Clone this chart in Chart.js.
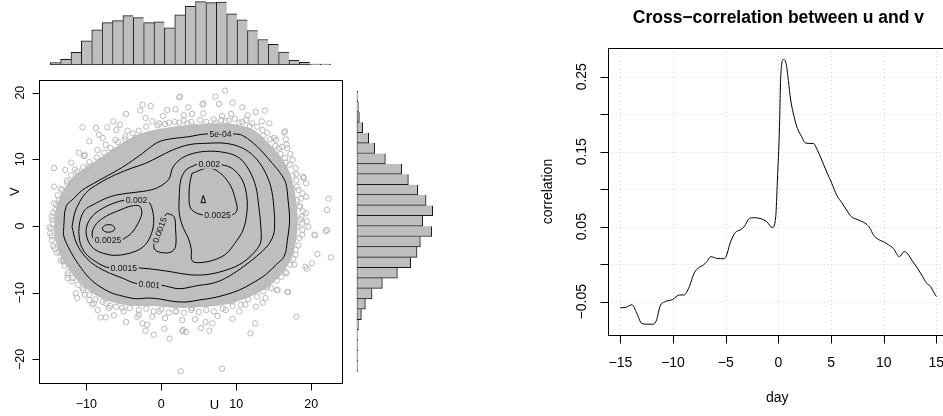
<!DOCTYPE html>
<html>
<head>
<meta charset="utf-8">
<script src="https://cdn.jsdelivr.net/npm/chart.js@4.4.1/dist/chart.umd.min.js"></script>
<style>
  html, body { margin: 0; padding: 0; background: #fff; overflow: hidden; }
  #wrap { position: relative; width: 943px; height: 416px; overflow: hidden; background: #fff; }
  #wrap canvas { position: absolute; left: 0; top: 0; }
</style>
</head>
<body>
<div id="wrap">
  <canvas id="histTop" width="943" height="416"></canvas>
  <canvas id="histRight" width="943" height="416"></canvas>
  <canvas id="scatter" width="943" height="416"></canvas>
  <canvas id="ccf" width="960" height="416"></canvas>
</div>
<script>
// Randhistogramme: Anzahl je Klasse (U von links nach rechts, V von unten nach oben)
const uCounts = [7, 17, 38, 73, 106, 128, 134, 149, 143, 128, 130, 112, 151, 177, 191, 188, 190, 154, 136, 104, 77, 62, 39, 14, 8, 1, 1];
const vCounts = [1, 1, 1, 3, 5, 14, 26, 46, 77, 122, 162, 181, 191, 225, 198, 228, 208, 183, 155, 135, 86, 54, 36, 18, 8, 5, 1];

// Einzelne Punkte am Rand der Wolke [U, V]
const outerPoints = [
  [2.4, 19.3], [8.5, 20.3], [7.2, 19.4], [2.5, 19.4], [-2.5, 18.2], [-1.4, 18.0], [-2.8, 17.3], [-4.7, 16.8],
  [0.8, 17.4], [1.9, 17.5], [3.6, 17.8], [4.1, 16.8], [5.5, 18.2], [5.6, 16.9], [5.6, 18.4], [7.7, 18.3],
  [9.5, 18.5], [10.8, 17.8], [9.3, 16.8], [8.1, 16.5], [12.6, 17.1], [13.8, 17.3], [-10.5, 14.8], [-8.7, 14.7],
  [-7.2, 14.8], [-6.0, 14.4], [-6.4, 15.7], [-4.5, 14.3], [-2.1, 16.2], [-1.2, 15.7], [-0.3, 15.4], [1.0, 15.5],
  [2.4, 15.5], [3.5, 15.4], [4.6, 14.9], [6.4, 15.0], [7.2, 15.5], [8.6, 15.7], [10.4, 15.5], [11.3, 15.9],
  [12.1, 15.4], [13.4, 15.7], [14.4, 15.4], [13.5, 14.4], [14.1, 14.0], [16.4, 14.0], [15.3, 12.9], [16.6, 13.0],
  [16.1, 11.9], [16.8, 11.7], [15.7, 11.7], [16.5, 14.2], [16.7, 12.2], [17.5, 9.9], [17.9, 8.7], [16.6, 9.5],
  [19.0, 7.2], [19.3, 6.4], [18.8, 4.9], [19.3, 4.4], [18.1, 5.9], [18.1, 3.9], [22.3, 4.1], [22.1, 2.4],
  [19.3, 1.9], [18.8, 0.4], [19.6, -0.1], [18.9, 7.4], [18.5, 2.9], [18.7, 1.4], [18.1, -0.1], [19.4, 0.7],
  [22.1, -0.6], [20.5, -1.4], [-8.5, 11.4], [-10.3, 10.5], [-14.3, 8.7], [-12.8, 8.4], [-14.3, 5.9], [-11.5, 8.5],
  [-6.1, 12.9], [-4.8, 13.4], [-3.4, 13.2], [-9.6, 8.9], [-10.8, 7.4], [-11.4, 6.7], [-13.2, 5.4], [-13.6, 3.9],
  [-14.1, 2.4], [-14.5, 0.9], [-13.0, 4.4], [-12.5, 6.4], [-8.3, 13.7], [-9.6, 12.7], [-7.4, 12.2], [-14.6, 1.4],
  [-14.4, 0.4], [-14.8, -1.1], [-14.6, -2.1], [-14.4, -3.0], [-14.0, 3.2], [-13.3, -4.1], [-13.1, -5.1], [-10.2, 10.7],
  [-14.9, -0.2], [-12.5, -7.3], [-12.5, -7.8], [-11.4, -10.1], [-11.2, -10.8], [-9.6, -11.1], [-9.0, -11.6], [-8.1, -13.7],
  [-7.4, -13.7], [-6.3, -13.4], [-4.7, -14.4], [-3.2, -13.6], [-2.1, -15.7], [-1.0, -16.3], [0.4, -15.4], [1.1, -16.9],
  [2.8, -15.8], [3.3, -15.9], [-1.9, -14.8], [-0.3, -12.8], [2.6, -21.8], [8.1, -21.4], [5.3, -15.3], [6.4, -15.7],
  [6.8, -14.6], [5.9, -14.4], [12.5, -14.6], [11.9, -16.1], [18.0, -13.6], [10.4, -12.8], [11.2, -11.8], [12.6, -12.1],
  [13.9, -10.8], [15.5, -9.6], [16.8, -9.9], [17.7, -5.8], [19.2, -6.1], [20.1, -5.6], [20.8, -4.2], [22.6, -4.7],
  [20.4, -1.3], [21.9, -0.8], [18.8, -1.3], [17.5, -2.3], [17.0, -3.8], [17.9, -4.3], [1.9, -12.8], [2.8, -14.1],
  [4.1, -12.3], [8.6, -12.6], [9.5, -11.3], [-1.2, -13.6], [-3.0, -13.3], [-5.2, -12.3], [-7.0, -12.3], [-7.4, -11.6],
  [-9.2, -11.8], [-10.5, -9.3], [-11.9, -8.3], [-11.0, -6.8], [-13.0, -5.3], [-13.6, -3.8], [19.4, -6.4], [16.7, -7.1],
  [16.9, -9.9], [15.4, -9.6], [14.1, -9.1], [2.9, -15.6], [-12.0, 9.5], [-11.0, 11.0], [-7.8, 13.2], [-5.5, 15.2],
  [0.2, 16.5], [3.0, 16.6], [11.5, 16.6], [15.0, 13.2], [17.2, 10.8], [18.0, 7.8], [4.5, -14.0], [0.5, -13.8],
  [7.5, -13.5], [9.5, -13.9], [13.5, -11.5], [-2.5, -14.6], [-8.5, -12.6], [-10.2, -10.3]
];

// Kreise direkt am Rand des dichten Kerns [U, V]
const edgePoints = [
  [-3.0, 14.3], [-2.0, 14.9], [-0.5, 15.1], [0.5, 15.3], [1.8, 15.6], [3.0, 15.8], [4.0, 15.6], [5.2, 15.9],
  [6.0, 15.6], [7.0, 16.0], [8.0, 15.9], [9.0, 15.8], [9.8, 16.1], [10.8, 15.6], [11.8, 15.0], [12.8, 14.9],
  [13.6, 13.6], [14.5, 13.0], [15.2, 12.0], [15.9, 10.8], [16.5, 10.2], [17.1, 9.2], [17.5, 7.6], [18.0, 6.8],
  [18.3, 5.4], [18.6, 4.1], [18.4, 3.0], [18.9, 2.2], [18.6, 1.0], [18.8, -0.6], [18.4, -1.8], [18.3, -2.9],
  [17.9, -3.6], [17.6, -4.9], [17.2, -5.8], [16.6, -6.9], [16.0, -7.6], [15.4, -8.2], [14.6, -9.3], [13.6, -9.8],
  [12.8, -10.6], [11.6, -11.0], [10.6, -11.8], [9.5, -12.0], [8.2, -12.4], [7.0, -12.8], [6.0, -12.6], [5.0, -12.9],
  [4.0, -12.6], [3.0, -13.0], [2.0, -12.8], [1.0, -13.0], [0.0, -12.5], [-1.0, -12.8], [-2.0, -12.4], [-3.0, -12.6],
  [-4.2, -12.3], [-5.0, -12.8], [-6.0, -12.1], [-6.8, -12.0], [-7.8, -11.4], [-8.8, -11.0], [-9.6, -10.3], [-10.4, -9.6],
  [-11.1, -8.8], [-11.8, -7.8], [-12.4, -7.0], [-12.9, -6.0], [-13.4, -5.2], [-13.9, -4.0], [-14.2, -3.4], [-14.6, -1.5],
  [-14.7, -0.4], [-14.4, 2.0], [-14.3, 3.4], [-13.8, 4.6], [-13.4, 5.6], [-12.6, 6.8], [-12.0, 7.6], [-11.2, 8.2],
  [-10.4, 8.8], [-9.6, 9.6], [-8.6, 10.3], [-7.6, 11.0], [-6.8, 11.7], [-5.8, 12.6], [-4.8, 13.0], [-3.8, 13.9]
];

// Umriss des dichten Kerns (dort liegen die Kreise lückenlos übereinander)
const coreOutline = [
  [-14.3, -0.5], [-14.0, 2.8], [-13.2, 5.0], [-11.8, 7.3], [-9.8, 9.0], [-7.8, 10.5], [-5.6, 12.2], [-3.2, 13.7],
  [-1.0, 14.4], [1.5, 14.9], [4.5, 15.2], [7.5, 15.4], [10.5, 15.1], [12.5, 14.3], [14.0, 12.8], [15.5, 11.0],
  [16.8, 8.8], [17.6, 6.3], [18.0, 3.5], [18.2, 0.5], [17.9, -2.5], [17.3, -5.0], [16.2, -7.0], [14.6, -8.8],
  [12.6, -10.2], [10.4, -11.2], [8.0, -11.9], [5.0, -12.2], [2.0, -12.3], [-1.0, -12.0], [-3.6, -12.0], [-6.0, -11.6],
  [-8.4, -10.6], [-10.4, -9.0], [-12.0, -7.0], [-13.3, -4.6], [-14.1, -2.3], [-14.3, -0.5]
];

// Konturlinien der Dichteschätzung
const contour5e4 = [
  [-13.0, -0.1], [-12.7, 2.9], [-11.6, 4.2], [-10.5, 5.4], [-9.0, 6.4], [-7.4, 7.4], [-5.2, 8.8], [-2.5, 10.9],
  [-1.0, 12.2], [0.4, 12.9], [3.7, 13.4], [5.9, 13.8], [9.9, 13.8], [10.8, 13.6], [12.1, 12.6], [13.5, 11.1],
  [14.8, 9.4], [15.9, 7.9], [16.6, 6.4], [16.9, 3.9], [17.1, 0.9], [16.8, -2.2], [16.4, -4.5], [15.3, -5.8],
  [13.9, -7.3], [12.1, -8.6], [10.4, -9.6], [8.6, -10.3], [6.8, -10.8], [5.0, -11.1], [3.3, -11.4], [1.5, -11.3],
  [0.1, -11.0], [-1.6, -10.8], [-3.4, -10.9], [-5.2, -10.5], [-6.7, -10.0], [-8.3, -9.0], [-9.6, -7.8], [-11.0, -5.8],
  [-12.1, -3.8], [-13.0, -1.5], [-13.0, -0.1]
];
const contour001 = [
  [-11.9, -0.1], [-11.4, 2.4], [-10.1, 4.9], [-8.3, 6.4], [-6.1, 7.7], [-3.9, 8.7], [-2.1, 9.4], [-0.3, 10.4],
  [1.5, 11.4], [3.7, 12.2], [5.9, 12.4], [8.6, 12.4], [10.8, 11.7], [12.4, 10.4], [13.7, 8.4], [14.6, 5.9],
  [15.0, 2.9], [15.1, -0.3], [14.8, -1.8], [13.9, -3.3], [11.3, -5.8], [8.6, -7.8], [6.8, -8.6], [5.0, -8.9],
  [2.4, -9.4], [0.1, -8.9], [-3.4, -8.6], [-5.2, -7.8], [-7.4, -6.8], [-9.2, -5.6], [-10.5, -4.1], [-11.4, -2.3],
  [-11.9, -0.1]
];
const contour0015 = [
  [-11.0, -0.8], [-10.8, 0.9], [-10.2, 2.4], [-9.1, 3.2], [-6.8, 4.4], [-4.6, 4.9], [-2.4, 5.2], [-0.6, 5.7],
  [1.0, 7.0], [1.5, 8.7], [2.4, 9.9], [3.7, 10.7], [5.9, 11.2], [8.6, 11.0], [10.4, 10.2], [11.7, 8.4],
  [12.6, 5.9], [13.0, 2.9], [13.3, -0.6], [13.2, -2.6], [12.1, -4.3], [10.4, -5.8], [8.1, -6.8], [5.9, -7.3],
  [3.7, -7.3], [1.5, -6.9], [-0.3, -6.6], [-2.8, -6.3], [-5.0, -6.3], [-7.2, -6.2], [-8.8, -5.3], [-10.1, -4.1],
  [-10.8, -2.6], [-11.0, -0.8]
];
const contour0015Mid = [
  [0.8, 1.9], [1.7, 1.4], [1.9, -0.4], [1.9, -3.1], [1.3, -3.9], [0.1, -4.0], [-0.8, -3.6], [-1.0, -2.9],
  [-0.5, -0.5], [0.2, 1.2], [0.8, 1.9]
];
const contour002Left = [
  [-1.7, 3.65], [-1.3, 2.9], [-1.0, 0.9], [-1.3, -1.1], [-2.2, -2.9], [-3.7, -3.9], [-6.0, -4.4], [-7.7, -4.1],
  [-9.0, -3.4], [-9.8, -2.1], [-10.0, -0.4], [-9.4, 1.2], [-8.2, 2.4], [-6.4, 3.4], [-4.8, 3.9], [-3.3, 3.9],
  [-1.7, 3.65]
];
const contour002Right = [
  [4.6, 9.2], [6.4, 9.3], [8.0, 9.2], [9.5, 8.6], [10.8, 6.9], [11.4, 4.4], [11.4, 1.9], [10.9, -0.6],
  [9.8, -2.6], [8.6, -4.2], [7.0, -5.1], [5.0, -5.5], [4.1, -5.2], [4.0, -3.5], [3.6, -1.8], [2.9, -0.2],
  [2.4, 1.9], [2.4, 4.4], [2.6, 6.9], [3.3, 8.4], [4.6, 9.2]
];
const contour0025Left = [
  [-5.1, -2.0], [-4.0, -1.1], [-3.1, 0.4], [-2.6, 1.9], [-2.9, 3.0], [-4.0, 3.0], [-5.5, 2.4], [-7.3, 1.5],
  [-8.6, 0.4], [-9.2, -0.9], [-9.0, -1.9], [-7.1, -2.2], [-5.1, -2.0]
];
const contour0025Right = [
  [4.1, 7.9], [6.4, 8.7], [8.1, 7.7], [9.3, 5.9], [9.9, 3.9], [10.1, 2.4], [9.5, 1.7], [7.3, 1.5],
  [5.0, 1.8], [3.9, 2.7], [3.7, 4.4], [3.8, 6.4], [4.1, 7.9]
];
const contour003Left = [[-7.9, -0.3], [-7.4, 0.15], [-6.5, 0.1], [-6.2, -0.5], [-6.8, -0.9], [-7.6, -0.8], [-7.9, -0.3]];
const contour003Right = [[5.3, 3.5], [5.6, 4.6], [5.9, 3.5], [5.3, 3.5]];
const contourLines = [contour5e4, contour001, contour0015, contour0015Mid, contour002Left, contour002Right,
  contour0025Left, contour0025Right, contour003Left, contour003Right];

// Beschriftung der Konturen
const labelText = ['5e-04', '0.001', '0.0015', '0.002', '0.0025', '0.002', '0.0025', '0.0015'];
const labelU = [7.9, -1.6, -5.0, -3.3, -7.1, 6.4, 7.5, -0.2];
const labelV = [13.75, -8.8, -6.3, 3.9, -2.1, 9.25, 1.6, -0.6];
const labelAngle = [0, 4, 0, 0, 0, 0, 0, -70];

// Kreuzkorrelation zwischen u und v
const ccfDay = [-15, -14.5, -13.9, -13.45, -12.97, -12.5, -11.86, -11.55, -11.23, -10.76, -10.03, -9.4, -8.96, -8.45,
  -8.0, -7.5, -7.12, -6.8, -6.42, -5.85, -5.15, -4.96, -4.58, -4.1, -3.63, -3.25, -2.75, -2.37, -1.74, -1.1, -0.57,
  -0.25, -0.09, 0.1, 0.22, 0.48, 0.73, 0.95, 1.17, 1.49, 1.81, 2.22, 2.53, 2.94, 3.33, 3.71, 4.12, 4.59, 5.07, 5.54,
  6.02, 6.49, 6.96, 7.44, 7.91, 8.32, 8.7, 9.02, 9.5, 9.97, 10.45, 10.92, 11.49, 11.94, 12.19, 12.66, 13.14, 13.61,
  14.09, 14.47, 14.72, 15.0];
const ccfValue = [-0.058, -0.0576, -0.054, -0.065, -0.079, -0.080, -0.080, -0.074, -0.056, -0.050, -0.047, -0.041,
  -0.041, -0.030, -0.012, -0.004, -0.001, 0.0033, 0.010, 0.0078, 0.0073, 0.010, 0.028, 0.042, 0.0456, 0.050, 0.061,
  0.062, 0.061, 0.0567, 0.0487, 0.063, 0.112, 0.179, 0.248, 0.273, 0.268, 0.245, 0.219, 0.197, 0.181, 0.170, 0.162,
  0.161, 0.161, 0.152, 0.139, 0.123, 0.108, 0.092, 0.082, 0.072, 0.063, 0.060, 0.057, 0.054, 0.048, 0.039, 0.033,
  0.030, 0.026, 0.021, 0.010, 0.0167, 0.0153, 0.0056, -0.004, -0.0144, -0.0256, -0.030, -0.0367, -0.043];

// Achsenmarken
const uTicks = [-10, 0, 10, 20];
const vTicks = [-20, -10, 0, 10, 20];
const dayTicks = [-15, -10, -5, 0, 5, 10, 15];
const corrTicks = [-0.05, 0, 0.05, 0.1, 0.15, 0.2, 0.25];
const corrTickLabels = ['−0.05', '', '0.05', '', '0.15', '', '0.25'];

const FONT = '"Liberation Sans", Arial, Helvetica, sans-serif';
const GREY = '#bebebe';
Chart.defaults.font.family = FONT;

/**
 * Formatiert eine Zahl mit echtem Minuszeichen (wie in R)
 * @param {number} v - Der Wert
 * @returns {string}
 */
function minus(v) {
    return String(v).replace('-', '−');
}

/**
 * Zeichnet Rahmen, Striche, Beschriftungen und Gitter im Stil von R base graphics
 */
const rAxes = {
    id: 'rAxes',
    beforeDatasetsDraw(chart, args, o) {
        if (!o.grid) return;
        const { ctx, chartArea: a, scales: { x, y } } = chart;
        ctx.save();
        ctx.strokeStyle = '#d3d3d3';
        ctx.lineWidth = 1;
        ctx.setLineDash([1, 3]);
        ctx.beginPath();
        o.xTicks.forEach(t => {
            const px = Math.round(x.getPixelForValue(t)) + 0.5;
            ctx.moveTo(px, a.top);
            ctx.lineTo(px, a.bottom);
        });
        o.yTicks.forEach(t => {
            const py = Math.round(y.getPixelForValue(t)) + 0.5;
            ctx.moveTo(a.left, py);
            ctx.lineTo(a.right, py);
        });
        ctx.stroke();
        ctx.restore();
    },
    afterDraw(chart, args, o) {
        if (!o.xTicks) return;
        const { ctx, chartArea: a, scales: { x, y } } = chart;
        ctx.save();
        ctx.strokeStyle = '#000';
        ctx.lineWidth = 1;
        const l = Math.round(a.left) + 0.5;
        const t = Math.round(a.top) + 0.5;
        const r = Math.round(a.right) + 0.5;
        const b = Math.round(a.bottom) + 0.5;
        ctx.strokeRect(l, t, r - l, b - t);

        // Striche
        ctx.beginPath();
        o.xTicks.forEach(v => {
            const px = Math.round(x.getPixelForValue(v)) + 0.5;
            ctx.moveTo(px, b);
            ctx.lineTo(px, b + o.tick);
        });
        o.yTicks.forEach(v => {
            const py = Math.round(y.getPixelForValue(v)) + 0.5;
            ctx.moveTo(l, py);
            ctx.lineTo(l - o.tick, py);
        });
        ctx.stroke();

        // Beschriftungen
        ctx.fillStyle = '#000';
        ctx.textAlign = 'center';
        ctx.textBaseline = 'middle';
        ctx.font = `${o.size}px ${FONT}`;
        o.xTicks.forEach((v, i) => {
            ctx.fillText(o.xLabels[i], x.getPixelForValue(v), a.bottom + o.xGap);
        });
        o.yTicks.forEach((v, i) => {
            if (!o.yLabels[i]) return;
            ctx.save();
            ctx.translate(a.left - o.yGap, y.getPixelForValue(v));
            ctx.rotate(-Math.PI / 2);
            ctx.fillText(o.yLabels[i], 0, 0);
            ctx.restore();
        });

        // Titel
        (o.titles || []).forEach(tt => {
            ctx.save();
            ctx.font = `${tt.bold ? 'bold ' : ''}${tt.size}px ${FONT}`;
            ctx.translate(tt.x, tt.y);
            if (tt.rot) ctx.rotate(tt.rot * Math.PI / 180);
            ctx.fillText(tt.text, 0, 0);
            ctx.restore();
        });
        ctx.restore();
    }
};
Chart.register(rAxes);

/**
 * Beschriftet die Konturlinien (Text mit grauem Hintergrund statt Lücke)
 */
const contourLabels = {
    id: 'contourLabels',
    afterDatasetsDraw(chart) {
        const { ctx, scales: { x, y } } = chart;
        ctx.save();
        ctx.font = `8.7px ${FONT}`;
        ctx.textAlign = 'center';
        ctx.textBaseline = 'middle';
        labelText.forEach((txt, i) => {
            const w = ctx.measureText(txt).width;
            ctx.save();
            ctx.translate(x.getPixelForValue(labelU[i]), y.getPixelForValue(labelV[i]));
            ctx.rotate(labelAngle[i] * Math.PI / 180);
            ctx.fillStyle = GREY;
            ctx.fillRect(-w / 2 - 1.5, -4.5, w + 3, 9);
            ctx.fillStyle = '#111';
            ctx.fillText(txt, 0, 0.5);
            ctx.restore();
        });
        ctx.restore();
    }
};

const noLegend = { legend: { display: false }, tooltip: { enabled: false } };

// Histogramm oben (U)
new Chart(document.getElementById('histTop'), {
    type: 'bar',
    data: {
        datasets: [{
            data: uCounts.map((c, i) => ({ x: i + 0.5, y: c })),
            backgroundColor: GREY,
            borderColor: '#1a1a1a',
            borderWidth: ctx => ({ top: 1, bottom: 1, left: 1, right: ctx.dataIndex === uCounts.length - 1 ? 1 : 0 }),
            borderSkipped: false,
            minBarLength: 1,
            barPercentage: 1,
            categoryPercentage: 1
        }]
    },
    options: {
        responsive: false,
        animation: false,
        layout: { padding: { left: 39, right: 601.3, top: 0, bottom: 351 } },
        scales: {
            x: { type: 'linear', min: -1.08, max: 28.08, offset: false, display: false },
            y: { min: 0, max: 196, display: false }
        },
        plugins: noLegend
    }
});

// Histogramm rechts (V)
new Chart(document.getElementById('histRight'), {
    type: 'bar',
    data: {
        datasets: [{
            data: vCounts.map((c, i) => ({ x: c, y: i + 0.5 })),
            backgroundColor: GREY,
            borderColor: '#1a1a1a',
            borderWidth: ctx => ({ left: 1, right: 1, bottom: 1, top: ctx.dataIndex === vCounts.length - 1 ? 1 : 0 }),
            borderSkipped: false,
            minBarLength: 1,
            barPercentage: 1,
            categoryPercentage: 1
        }]
    },
    options: {
        indexAxis: 'y',
        responsive: false,
        animation: false,
        layout: { padding: { left: 356.7, right: 506.3, top: 80, bottom: 33.3 } },
        scales: {
            y: { type: 'linear', min: -1.08, max: 28.08, offset: false, display: false },
            x: { min: 0, max: 240, display: false }
        },
        plugins: noLegend
    }
});

// Streudiagramm mit Konturen
const circleStyle = {
    showLine: false,
    pointRadius: 2.7,
    pointBorderWidth: 1,
    pointBorderColor: '#b8b8b8',
    pointBackgroundColor: 'rgba(0,0,0,0)',
    order: 2
};
const scatterSets = [
    {
        data: coreOutline.map(p => ({ x: p[0], y: p[1] })),
        showLine: true,
        fill: 'shape',
        backgroundColor: GREY,
        borderColor: GREY,
        borderWidth: 0,
        pointRadius: 0,
        tension: 0.35,
        order: 3
    },
    { data: outerPoints.map(p => ({ x: p[0], y: p[1] })), ...circleStyle },
    { data: edgePoints.map(p => ({ x: p[0], y: p[1] })), ...circleStyle }
];
contourLines.forEach(c => {
    scatterSets.push({
        data: c.map(p => ({ x: p[0], y: p[1] })),
        showLine: true,
        fill: false,
        borderColor: '#000',
        borderWidth: 1,
        pointRadius: 0,
        tension: c.length > 5 ? 0.35 : 0,
        order: 1
    });
});

new Chart(document.getElementById('scatter'), {
    type: 'scatter',
    data: { datasets: scatterSets },
    options: {
        responsive: false,
        animation: false,
        layout: { padding: { left: 39, right: 601.3, top: 80, bottom: 33.3 } },
        scales: {
            x: { type: 'linear', min: -16.3, max: 24.05, display: false },
            y: { type: 'linear', min: -23.5, max: 21.9, display: false }
        },
        plugins: {
            ...noLegend,
            rAxes: {
                xTicks: uTicks,
                xLabels: uTicks.map(minus),
                yTicks: vTicks,
                yLabels: vTicks.map(minus),
                tick: 7,
                size: 12.5,
                xGap: 22.3,
                yGap: 18.5,
                titles: [
                    { text: 'U', x: 214.5, y: 405, size: 13 },
                    { text: 'V', x: 15, y: 191.7, size: 13, rot: -90 }
                ]
            }
        }
    },
    plugins: [contourLabels]
});

// Kreuzkorrelation
new Chart(document.getElementById('ccf'), {
    type: 'line',
    data: {
        datasets: [{
            data: ccfDay.map((d, i) => ({ x: d, y: ccfValue[i] })),
            borderColor: '#000',
            borderWidth: 1,
            pointRadius: 0,
            fill: false,
            cubicInterpolationMode: 'monotone'
        }]
    },
    options: {
        responsive: false,
        animation: false,
        layout: { padding: { left: 607.7, right: 11, top: 48, bottom: 81 } },
        scales: {
            x: { type: 'linear', min: -16.2, max: 16.2, display: false },
            y: { type: 'linear', min: -0.0944, max: 0.2883, display: false }
        },
        plugins: {
            ...noLegend,
            rAxes: {
                grid: true,
                xTicks: dayTicks,
                xLabels: dayTicks.map(minus),
                yTicks: corrTicks,
                yLabels: corrTickLabels,
                tick: 8,
                size: 14,
                xGap: 28.3,
                yGap: 26,
                titles: [
                    { text: 'Cross−correlation between u and v', x: 778.4, y: 18, size: 17.5, bold: true },
                    { text: 'day', x: 777.3, y: 398.3, size: 14 },
                    { text: 'correlation', x: 548.3, y: 191.5, size: 14, rot: -90 }
                ]
            }
        }
    }
});
</script>
</body>
</html>
